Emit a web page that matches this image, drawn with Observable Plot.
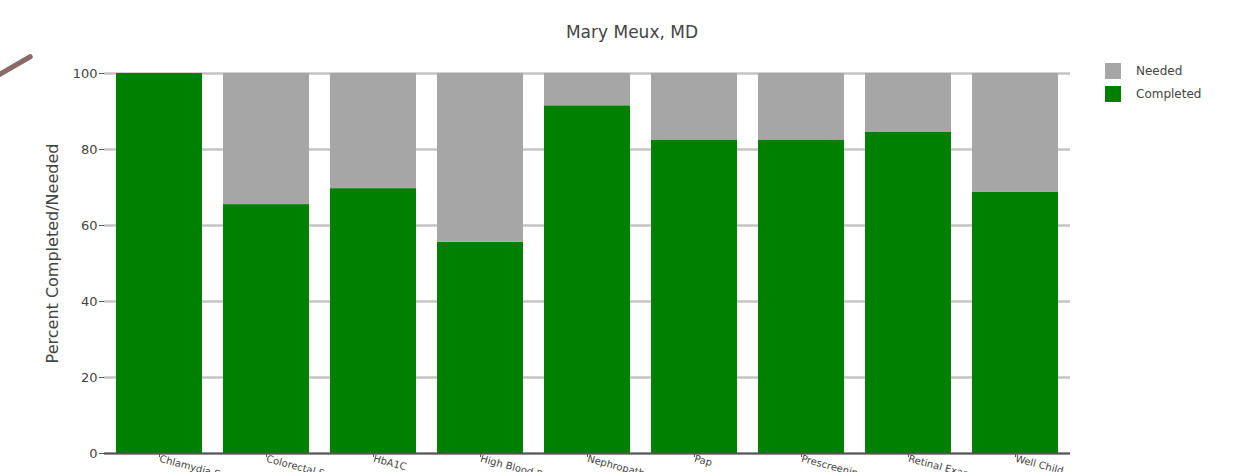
<!DOCTYPE html>
<html>
<head>
<meta charset="utf-8">
<script src="https://cdn.jsdelivr.net/npm/d3@7"></script>
<script src="https://cdn.jsdelivr.net/npm/@observablehq/plot@0.6"></script>
<style>
  html, body { margin: 0; padding: 0; background: #fff; }
  #wrap { position: relative; width: 1250px; height: 472px; overflow: hidden; font-family: "DejaVu Sans", Verdana, sans-serif; }
  #title { position: absolute; left: 0; width: 1264px; top: 22px; text-align: center; font-size: 17px; color: #444; }
  #legend { position: absolute; left: 1105px; top: 63px; font-size: 12px; color: #444; }
  .li { display: flex; align-items: center; height: 16px; margin-bottom: 7px; }
  .sw { width: 16px; height: 16px; margin-right: 15px; }
  #deco { position: absolute; left: -5px; top: 63px; width: 40px; height: 5px; background: #8a6a6a; transform: rotate(-30deg); border-radius: 2px; }
</style>
</head>
<body>
<div id="wrap">
  <div id="deco"></div>
  <div id="title">Mary Meux, MD</div>
  <div id="legend"></div>
  <div id="chart"></div>
</div>
<script>
const categories = ["Chlamydia Screening", "Colorectal Screening", "HbA1C", "High Blood Pressure", "Nephropathy", "Pap", "Prescreening", "Retinal Exam", "Well Child"];
const completedValues = [100, 65.5, 69.7, 55.6, 91.5, 82.5, 82.5, 84.6, 68.7];
const neededValues = [0, 34.5, 30.3, 44.4, 8.5, 17.5, 17.5, 15.4, 31.3];
const seriesNames = ["Completed", "Needed"];
const seriesColors = ["#008000", "#a6a6a6"];
const yTicks = [0, 20, 40, 60, 80, 100];
const yLabel = "Percent Completed/Needed";

const rows = [];
categories.forEach((c, i) => {
  rows.push({cat: c, series: "Completed", value: completedValues[i]});
  rows.push({cat: c, series: "Needed", value: neededValues[i]});
});

const chart = Plot.plot({
  width: 1250,
  height: 472,
  marginLeft: 104,
  marginRight: 180,
  marginTop: 73,
  marginBottom: 19,
  style: {fontFamily: "DejaVu Sans, Verdana, sans-serif", fontSize: "11px", color: "#444", background: "#fff"},
  x: {domain: categories, paddingInner: 0.2, paddingOuter: 0.1, label: null},
  y: {domain: [0, 100], label: null},
  color: {domain: seriesNames, range: seriesColors},
  marks: [
    Plot.ruleY(yTicks, {stroke: "#c4c4c4", strokeWidth: 2.5}),
    Plot.barY(rows, {x: "cat", y: "value", fill: "series", order: seriesNames}),
    Plot.ruleY([0], {stroke: "#555", strokeWidth: 2}),
    Plot.axisY({ticks: yTicks, tickSize: 5, tickPadding: 2, fontSize: 13, label: null, stroke: "#555"}),
    Plot.axisX({tickRotate: 15, tickSize: 4, tickPadding: 1, fontSize: 10, label: null, stroke: "#555"}),
    Plot.text([yLabel], {frameAnchor: "left", textAnchor: "middle", rotate: -90, dx: -52, dy: -10, fontSize: 16, fill: "#444", text: d => d})
  ]
});
document.getElementById("chart").appendChild(chart);

// legend
const leg = document.getElementById("legend");
["Needed", "Completed"].forEach(n => {
  const d = document.createElement("div");
  d.className = "li";
  const s = document.createElement("div");
  s.className = "sw";
  s.style.background = seriesColors[seriesNames.indexOf(n)];
  const t = document.createElement("span");
  t.textContent = n;
  d.appendChild(s); d.appendChild(t);
  leg.appendChild(d);
});
</script>
</body>
</html>
